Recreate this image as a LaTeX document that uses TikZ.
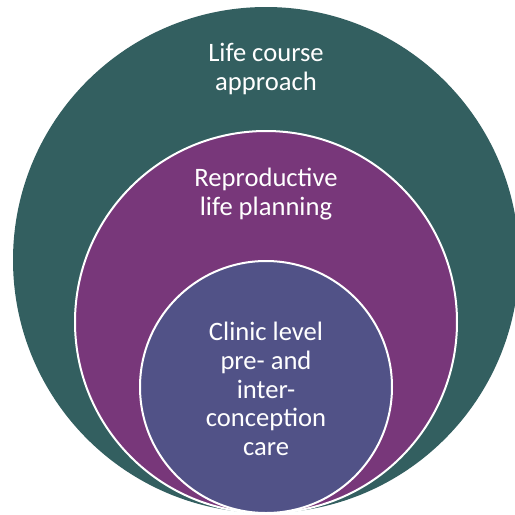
\documentclass[tikz,border=0pt]{standalone}
\usepackage{fontspec}
\setmainfont{Carlito}
\usepackage{xcolor}
\usepackage{tikz}
\usetikzlibrary{positioning}

\definecolor{lifeteal}{HTML}{335F60}
\definecolor{reprpurple}{HTML}{78377A}
\definecolor{clinicblue}{HTML}{515287}

\begin{document}
\begin{tikzpicture}[
  x=0.5pt, y=-0.5pt,
  font=\fontsize{13.3}{14.3}\selectfont,
  ring/.style={circle, inner sep=0pt, outer sep=0pt},
  inring/.style={ring, draw=white, line width=1pt},
  lbl/.style={text=white, align=center, inner sep=0pt}
]
\useasboundingbox (0,0) rectangle (515,515);

% ---- Nested circles ----
\node[ring, fill=lifeteal, minimum size=253pt]     (life)   at (266,260) {};
\node[inring, fill=reprpurple, minimum size=191pt] (repro)  at (266,322) {};
\node[inring, fill=clinicblue, minimum size=126pt] (clinic) at (266,387) {};

% ---- Labels ----
\node[lbl] (lifetxt)   at (266,69)  {Life course\\approach};
\node[lbl] (reprotxt)  at (266,194) {Reproductive\\life planning};
\node[lbl] (clinictxt) at (266,389) {Clinic level\\pre- and\\inter-\\conception\\care};

\end{tikzpicture}
\end{document}
